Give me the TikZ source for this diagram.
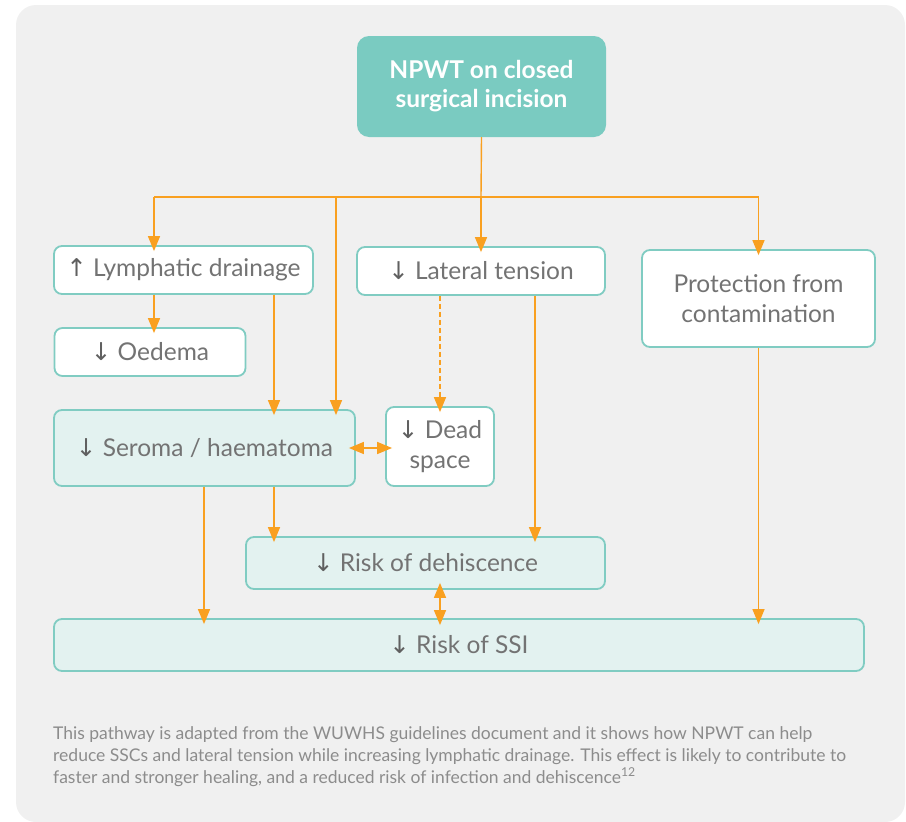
\documentclass[tikz,border=0pt]{standalone}
\usepackage{fontspec}
\setmainfont{Lato}
\newfontfamily\arrfont{DejaVu Sans}
\usetikzlibrary{arrows.meta}
\definecolor{bgc}{HTML}{F0F0F0}
\definecolor{teal}{HTML}{7ACBC1}
\definecolor{tealline}{HTML}{80CCC2}
\definecolor{lightfill}{HTML}{E3F2F0}
\definecolor{txt}{HTML}{737373}
\definecolor{arrtxt}{HTML}{606060}
\definecolor{orng}{HTML}{F9A020}
\definecolor{captxt}{HTML}{8C8C8C}
\newcommand{\dnar}{{\arrfont\color{arrtxt}\char"2193}}
\newcommand{\uparr}{{\arrfont\color{arrtxt}\char"2191}}
\tikzset{
  box/.style={draw=tealline, line width=1.8pt, rounded corners=8pt, fill=white, text=txt,
    font=\fontsize{24.5}{30}\selectfont, align=center, inner sep=0pt},
  lbox/.style={box, fill=lightfill},
  topbox/.style={fill=teal, rounded corners=12pt, text=white, align=center,
    font=\fontsize{24.5}{29}\selectfont\bfseries, inner sep=0pt},
  conn/.style={draw=orng, line width=1.4pt},
  arr/.style={conn, -{Triangle[width=12pt,length=15pt]}, shorten >=-6pt},
  darr/.style={conn, {Triangle[width=12pt,length=15pt]}-{Triangle[width=12pt,length=15pt]}, shorten >=-7pt, shorten <=-7pt},
}
\begin{document}
\begin{tikzpicture}[x=1pt,y=-1pt]
\useasboundingbox (0,0) rectangle (906,822);
\fill[bgc, rounded corners=20pt] (16,5) rectangle (905,822);

\node[topbox, minimum width=249pt, minimum height=101pt] (top) at (481.5,86.5) {NPWT on closed\\surgical incision};

\node[box, minimum width=259pt, minimum height=48pt] (lymph) at (183.5,270) {\uparr\ Lymphatic drainage};
\node[box, minimum width=191pt, minimum height=48pt] (oed) at (150,352) {\dnar\ Oedema};
\node[box, minimum width=248pt, minimum height=48pt] (lat) at (481,271) {\dnar\ Lateral tension};
\node[box, minimum width=233pt, minimum height=97pt] (prot) at (758.5,298.5) {Protection from\\contamination};
\node[lbox, minimum width=301pt, minimum height=76pt] (sero) at (204.5,448) {\dnar\ Seroma / haematoma};
\node[box, minimum width=108pt, minimum height=79pt] (dead) at (440,446.5) {\dnar\ Dead\\space};
\node[lbox, minimum width=359pt, minimum height=52pt] (dehi) at (425.5,563) {\dnar\ Risk of dehiscence};
\node[lbox, minimum width=810pt, minimum height=52pt] (ssi) at (459,645) {\dnar\ Risk of SSI};

\coordinate (hub) at (481,197);
\coordinate (jL) at (154,197);
\coordinate (jS) at (336,197);
\coordinate (jR) at (758.5,197);
\coordinate (xa) at (274,0);
\coordinate (xb) at (535,0);
\coordinate (xc) at (204,0);
\coordinate (xd) at (440,0);

\draw[conn] (top.south) -- (hub);
\draw[conn] (jL) -- (jR);
\draw[arr] (jL) -- (jL |- lymph.north);
\draw[arr] (hub) -- (lat.north);
\draw[arr] (jR) -- (prot.north);
\draw[arr] (jS) -- (jS |- sero.north);
\draw[arr] (lymph.south -| jL) -- (oed.north -| jL);
\draw[arr] (lymph.south -| xa) -- (sero.north -| xa);
\draw[arr, dashed, dash pattern=on 5pt off 3pt] (lat.south -| dead.north) -- (dead.north);
\draw[arr] (lat.south -| xb) -- (dehi.north -| xb);
\draw[darr] (sero.east) -- (sero.east -| dead.west);
\draw[arr] (sero.south -| xc) -- (ssi.north -| xc);
\draw[arr] (sero.south -| xa) -- (dehi.north -| xa);
\draw[darr] (dehi.south -| xd) -- (ssi.north -| xd);
\draw[arr] (prot.south) -- (prot.south |- ssi.north);

\node[anchor=north west, inner sep=0pt, align=left, text=captxt, font=\fontsize{17.5}{22}\selectfont] (cap) at (53,726)
{This pathway is adapted from the WUWHS guidelines document and it shows how NPWT can help\\
reduce SSCs and lateral tension while increasing lymphatic drainage. This effect is likely to contribute to\\
faster and stronger healing, and a reduced risk of infection and dehiscence\textsuperscript{12}};
\end{tikzpicture}
\end{document}
